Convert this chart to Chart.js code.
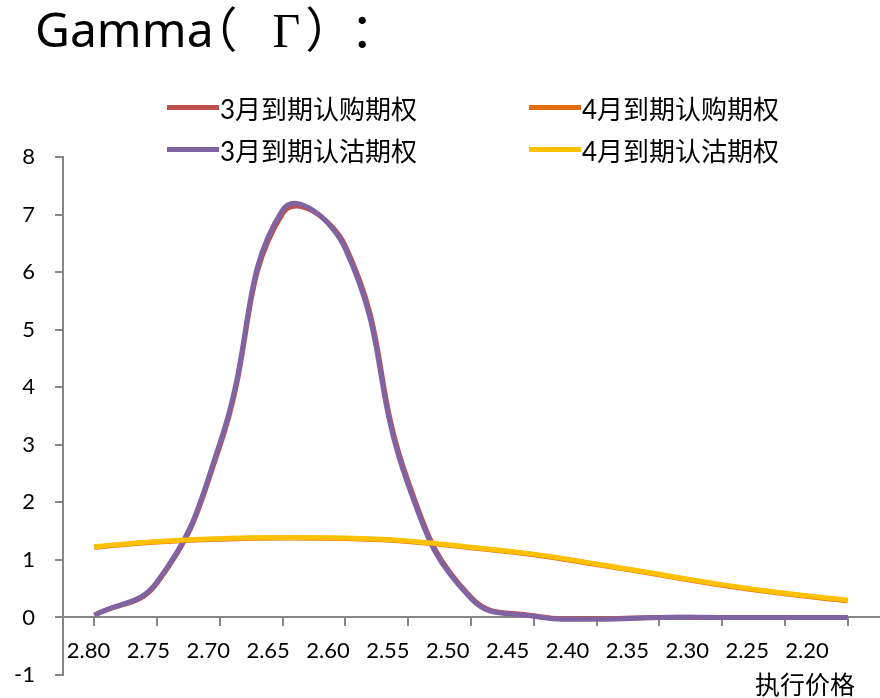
<!DOCTYPE html>
<html>
<head>
<meta charset="utf-8">
<script src="https://cdn.jsdelivr.net/npm/chart.js@4.4.1/dist/chart.umd.min.js"></script>
<style>
  html, body { margin: 0; padding: 0; background: #fff; }
  #wrap { position: relative; width: 880px; height: 698px; overflow: hidden; }
  #chart { position: absolute; left: 0; top: 0; }
  .title { position: absolute; left: 35px; top: -9px; font: 48px "Noto Sans", sans-serif; color: #000; white-space: nowrap; }
  .title span { font-family: "Noto Sans CJK SC", sans-serif; }
  .title .greek { font-family: "Liberation Serif", serif; }
  #legend { position: absolute; left: 167px; top: 86px; display: grid; grid-template-columns: 362px auto; grid-auto-rows: 42px; }
  .legend-item { display: flex; align-items: center; font: 26px Lato, "Noto Sans CJK SC", sans-serif; color: #000; white-space: nowrap; }
  .legend-item i { display: inline-block; width: 52px; height: 5px; margin-right: 1px; }
  .axis-title { position: absolute; left: 755px; top: 665px; font: 25px "Noto Sans CJK SC", sans-serif; color: #000; white-space: nowrap; }
</style>
</head>
<body>
<div id="wrap">
  <canvas id="chart" width="880" height="698"></canvas>
  <div class="title">Gamma<span style="margin-left:-24px">（</span><span class="greek" style="margin-left:35px">Γ</span><span style="margin-left:5px">）</span><span style="margin-left:21px">：</span></div>
  <div id="legend"></div>
  <div class="axis-title">执行价格</div>
</div>
<script>
// strike prices, high to low as in the sheet
const strikes = ['2.80', '2.75', '2.70', '2.65', '2.60', '2.55', '2.50', '2.45', '2.40', '2.35', '2.30', '2.25', '2.20'];

// gamma per strike
const call3 = [0.04, 0.60, 2.98, 7.02, 6.45, 2.36, 0.35, 0.03, -0.02, 0, 0, 0, 0];
const call4 = [1.22, 1.31, 1.36, 1.38, 1.37, 1.32, 1.21, 1.09, 0.92, 0.74, 0.56, 0.41, 0.29];
const put3 = [0.04, 0.62, 3.03, 7.08, 6.40, 2.30, 0.33, 0.02, -0.03, 0, 0, 0, 0];
const put4 = [1.23, 1.32, 1.37, 1.39, 1.38, 1.33, 1.22, 1.10, 0.93, 0.75, 0.57, 0.42, 0.30];

const seriesNames = ['3月到期认购期权', '4月到期认购期权', '3月到期认沽期权', '4月到期认沽期权'];
const seriesColors = ['#C0504D', '#E46C0A', '#8064A2', '#FFC000'];
const seriesData = [call3, call4, put3, put4];
const drawOrder = [3, 2, 1, 0]; // yellow ends up on top, like the sheet

const yMin = -1;
const yMax = 8;

const axisGray = '#868686';

// legend in two columns, same order as the series
const legendEl = document.getElementById('legend');
seriesNames.forEach((name, i) => {
  const item = document.createElement('div');
  item.className = 'legend-item';
  item.innerHTML = `<i style="background:${seriesColors[i]}"></i><span>${name}</span>`;
  legendEl.appendChild(item);
});

const datasets = seriesNames.map((name, i) => ({
  label: name,
  data: seriesData[i],
  xAxisID: 'x',
  borderColor: seriesColors[i],
  backgroundColor: seriesColors[i],
  borderWidth: 5,
  pointRadius: 0,
  tension: 0.45,
  fill: false,
  order: drawOrder[i]
}));

// axes that sit on y = 0 should not take room from the plot area
const noRoom = s => {
  s.height = 0;
  s.paddingLeft = 0;
  s.paddingRight = 0;
  s.paddingTop = 0;
  s.paddingBottom = 0;
};

const ctx = document.getElementById('chart').getContext('2d');
new Chart(ctx, {
  type: 'line',
  data: { labels: strikes, datasets },
  options: {
    responsive: false,
    animation: false,
    devicePixelRatio: 1,
    layout: { padding: { left: 0, top: 157, right: 1, bottom: 23 } },
    plugins: {
      legend: { display: false },
      tooltip: { enabled: false }
    },
    scales: {
      x: {
        type: 'category',
        position: { y: 0 },
        offset: true,
        afterFit: noRoom,
        grid: { drawOnChartArea: false, drawTicks: true, tickLength: 8, color: axisGray, lineWidth: 2 },
        border: { color: axisGray, width: 2 },
        ticks: { display: false }
      },
      // the labels in the sheet sit a little tighter than the category slots
      xLabels: {
        type: 'linear',
        axis: 'x',
        position: { y: 0 },
        reverse: true,
        min: 2.1399,
        max: 2.8213,
        afterBuildTicks: s => { s.ticks = strikes.map(v => ({ value: Number(v) })); },
        afterFit: noRoom,
        grid: { display: false, drawTicks: false },
        border: { display: false },
        ticks: {
          padding: 20,
          autoSkip: false,
          maxRotation: 0,
          color: '#000',
          font: { family: 'Lato, sans-serif', size: 22 },
          callback: (v, i) => strikes[i]
        }
      },
      y: {
        min: yMin,
        max: yMax,
        afterFit: s => {
          s.width = 63;
          s.paddingTop = 0;
          s.paddingBottom = 0;
        },
        grid: { drawOnChartArea: false, drawTicks: true, tickLength: 8, color: axisGray, lineWidth: 2 },
        border: { color: axisGray, width: 2 },
        ticks: { stepSize: 1, padding: 20, color: '#000', font: { family: 'Lato, sans-serif', size: 22 } }
      }
    }
  }
});
</script>
</body>
</html>
